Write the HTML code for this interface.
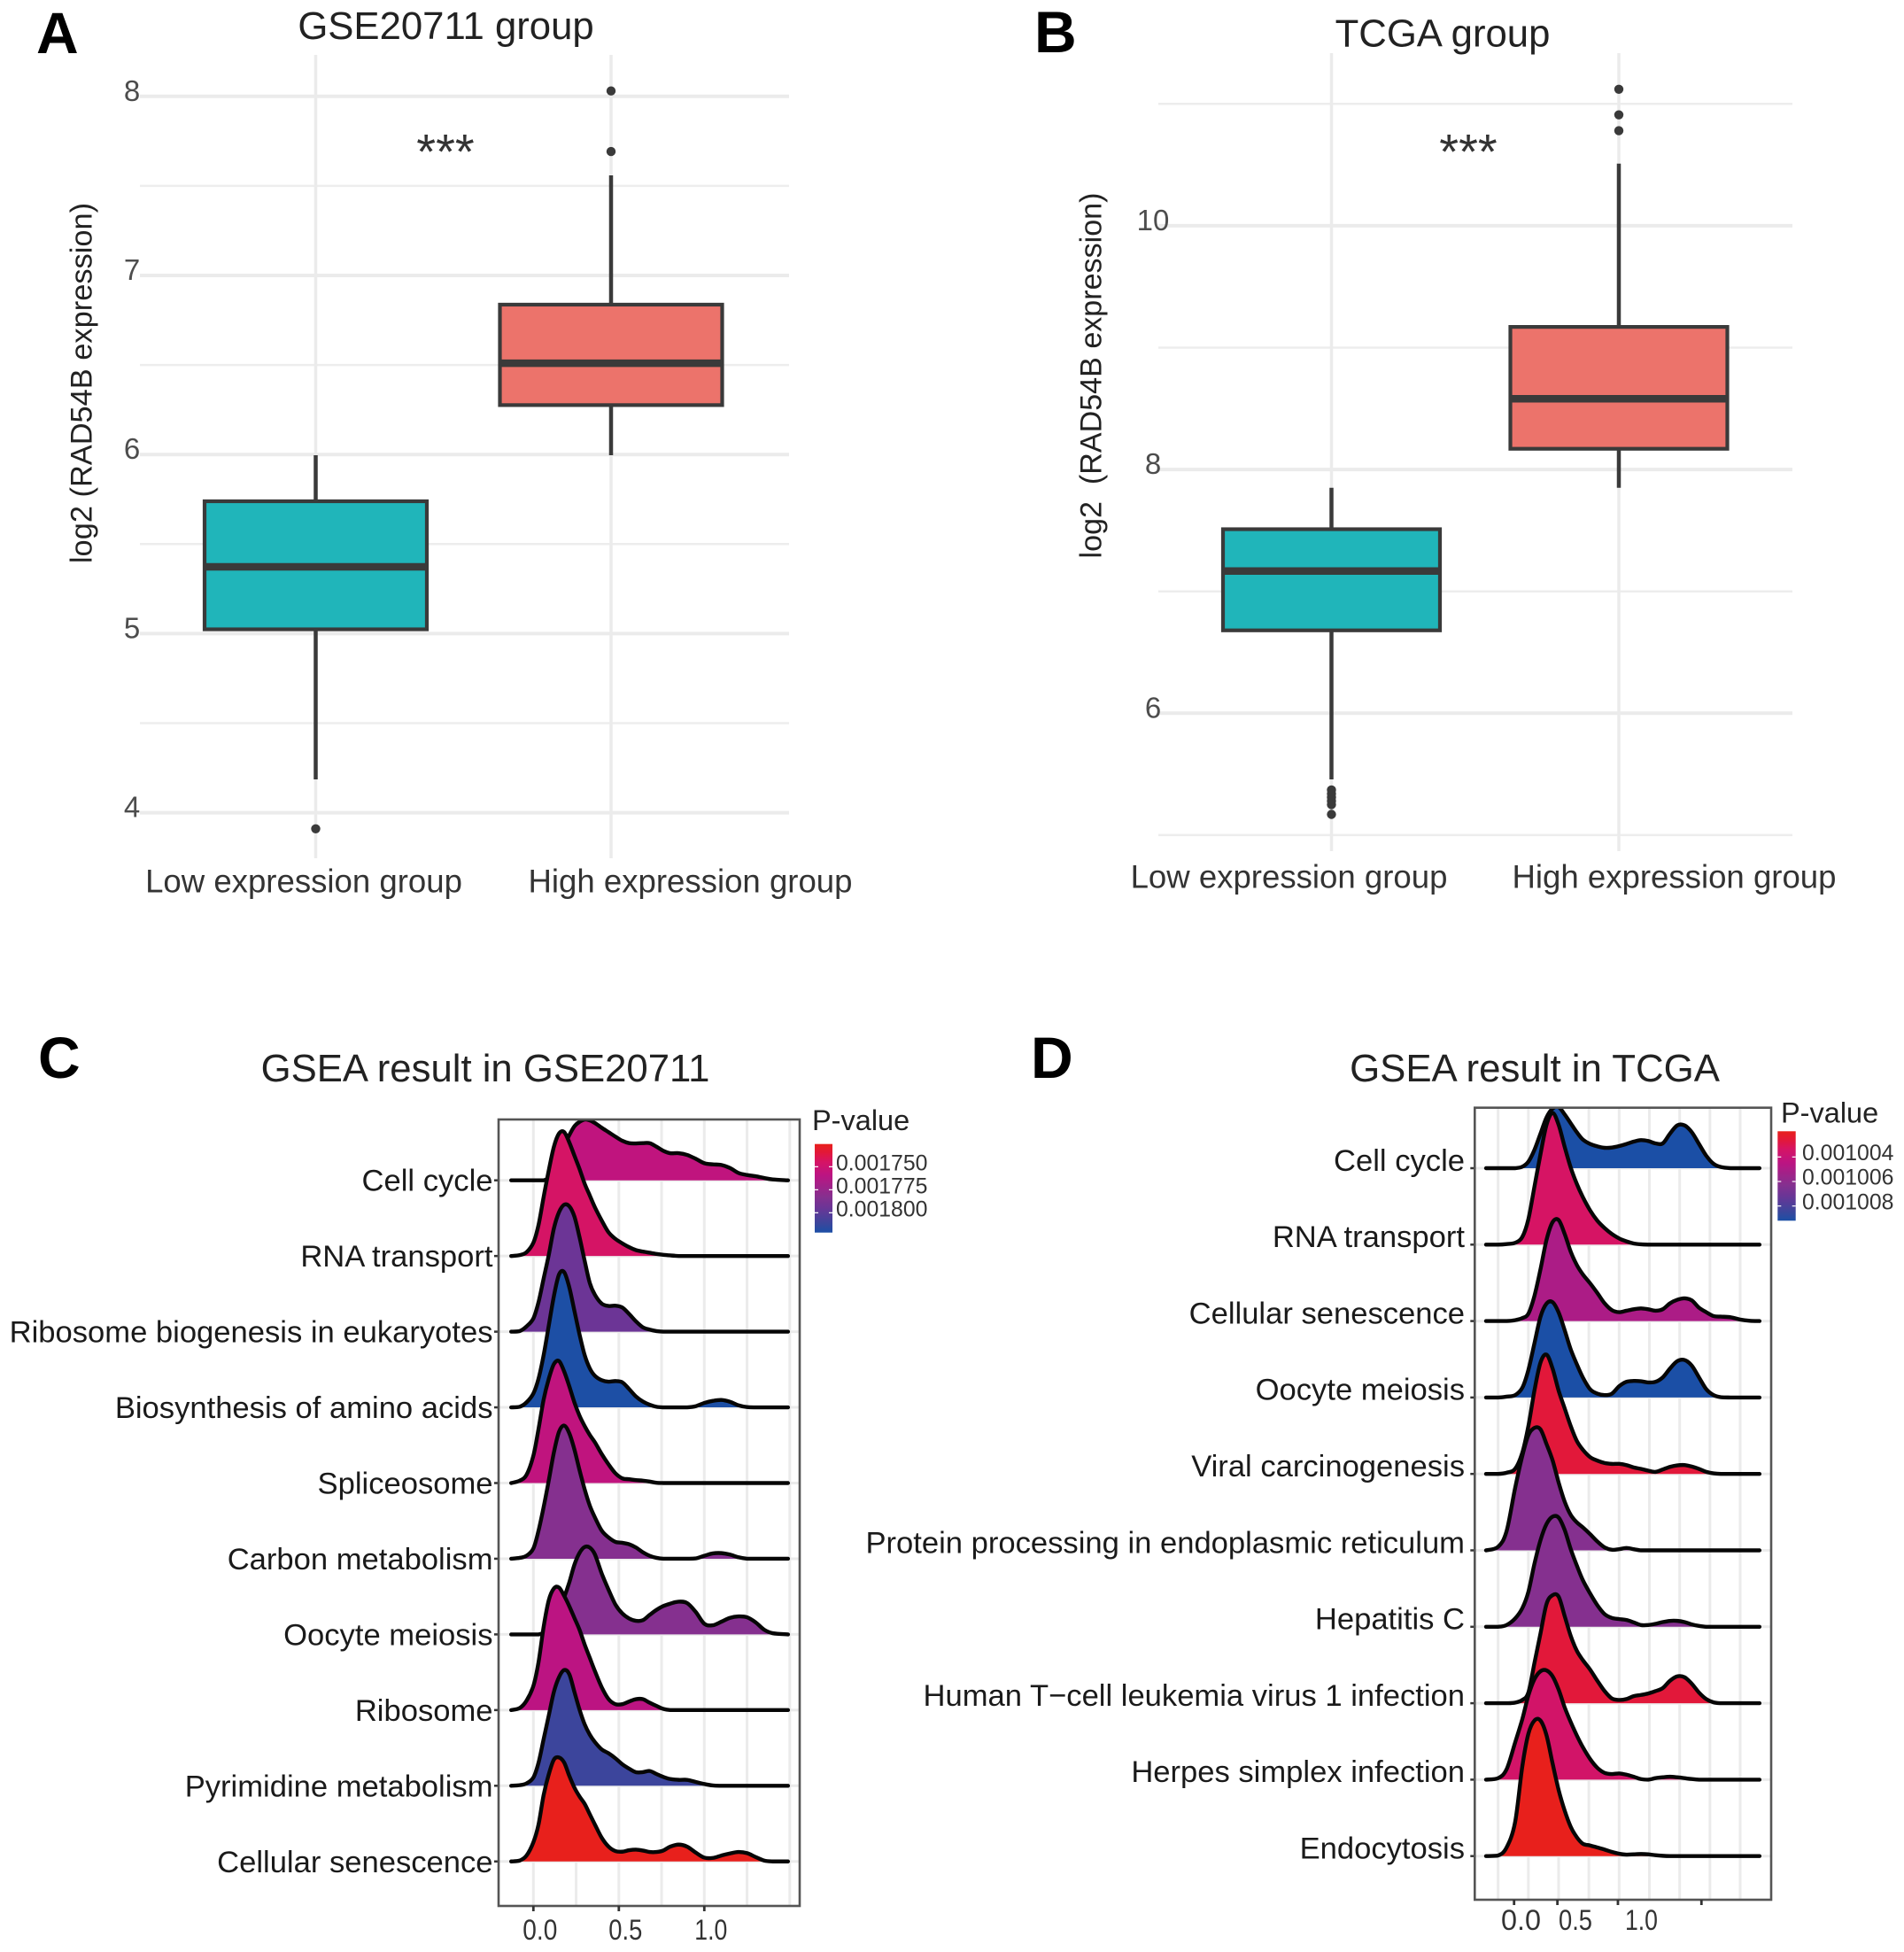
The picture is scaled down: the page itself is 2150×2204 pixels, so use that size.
<!DOCTYPE html>
<html lang="en">
<head>
<meta charset="utf-8">
<title>RAD54B expression and GSEA results</title>
<style>
  html, body { margin: 0; padding: 0; background: #fff; }
  svg { display: block; }
  text { font-family: "Liberation Sans", "DejaVu Sans", sans-serif; }
</style>
</head>
<body>
<svg id="figure" xmlns="http://www.w3.org/2000/svg" width="2150" height="2204" viewBox="0 0 2150 2204">
  <rect x="0" y="0" width="2150" height="2204" fill="#ffffff"/>
  <defs>
    <clipPath id="clip-c"><rect x="563" y="1264" width="340" height="888"/></clipPath>
    <clipPath id="clip-d"><rect x="1665.3" y="1250.7" width="334.7" height="894.3"/></clipPath>
  </defs>

  <g id="panel-a"></g>
  <g id="panel-b"></g>
  <g id="panel-c"></g>
  <g id="panel-d"></g>

  <text x="41" y="60" font-size="66" font-weight="bold" fill="#000">A</text>
  <text x="1168" y="59" font-size="66" font-weight="bold" fill="#000">B</text>
  <text x="43" y="1217" font-size="66" font-weight="bold" fill="#000">C</text>
  <text x="1164" y="1217" font-size="66" font-weight="bold" fill="#000">D</text>

  <text x="503.5" y="44" font-size="43.7" text-anchor="middle" fill="#222">GSE20711 group</text>
  <text x="1629" y="52.6" font-size="43.7" text-anchor="middle" fill="#222">TCGA group</text>
  <text x="548" y="1221" font-size="43.7" text-anchor="middle" fill="#222">GSEA result in GSE20711</text>
  <text x="1733" y="1221" font-size="43.8" text-anchor="middle" fill="#222">GSEA result in TCGA</text>

  <text transform="translate(103.5 432.5) rotate(-90)" font-size="34.4" text-anchor="middle" fill="#222">log2 (RAD54B expression)</text>
  <text transform="translate(1243.6 424) rotate(-90)" font-size="34.1" text-anchor="middle" fill="#222" style="white-space:pre">log2  (RAD54B expression)</text>

  <text x="503" y="190.7" font-size="56" text-anchor="middle" fill="#333">***</text>
  <text x="1658" y="190.7" font-size="56" text-anchor="middle" fill="#333">***</text>

  <text x="917" y="1276" font-size="32.5" fill="#222">P-value</text>
  <text x="2011" y="1267.3" font-size="32.5" fill="#222">P-value</text>
</svg>

<script>
// ---------- Panel A data ----------
const boxCategories = ['Low expression group', 'High expression group'];
const aQ1 = [5.024, 6.276];
const aMedian = [5.373, 6.51];
const aQ3 = [5.739, 6.837];
const aWhiskerLow = [4.186, 5.996];
const aWhiskerHigh = [5.996, 7.559];
const aOutliersLow = [3.91];
const aOutliersHigh = [8.03, 7.692];
const aMajorTicks = [4, 5, 6, 7, 8];
const aMinorTicks = [4.5, 5.5, 6.5, 7.5];

// ---------- Panel B data ----------
const bQ1 = [6.68, 8.17];
const bMedian = [7.167, 8.58];
const bQ3 = [7.51, 9.17];
const bWhiskerLow = [5.457, 7.85];
const bWhiskerHigh = [7.85, 10.51];
const bOutliersLow = [5.37, 5.34, 5.31, 5.28, 5.25, 5.17];
const bOutliersHigh = [11.12, 10.91, 10.78];
const bMajorTicks = [6, 8, 10];
const bMinorTicks = [5, 7, 9, 11];

// ---------- Panel C data ----------
const cPathways = ['Cell cycle', 'RNA transport', 'Ribosome biogenesis in eukaryotes', 'Biosynthesis of amino acids', 'Spliceosome', 'Carbon metabolism', 'Oocyte meiosis', 'Ribosome', 'Pyrimidine metabolism', 'Cellular senescence'];
const cPvalues = [0.001757, 0.001745, 0.001794, 0.001821, 0.001757, 0.001783, 0.001783, 0.001759, 0.001811, 0.0017253];
const cDensityX = [-0.13, -0.08, -0.04, 0, 0.03, 0.06, 0.09, 0.12, 0.15, 0.18, 0.21, 0.24, 0.27, 0.30, 0.33, 0.36, 0.40, 0.44, 0.48, 0.52, 0.56, 0.60, 0.64, 0.68, 0.72, 0.76, 0.80, 0.85, 0.90, 0.95, 1.0, 1.05, 1.10, 1.15, 1.20, 1.25, 1.30, 1.35, 1.40, 1.49];
const cCellCycle = [0,0,0,0,0,0,10,43,83,118,153,183,198,206,203,194,178,163,148,134,126,125,126,126,114,100,92,92,86,73,58,54,52,42,25,18,14,8,3,0];
const cRnaTransport = [0,3,13,45,105,200,290,370,415,420,385,340,295,245,205,165,120,80,58,43,30,20,15,11,7,4,2,0,0,0,0,0,0,0,0,0,0,0,0,0];
const cRibosomeBiogenesis = [0,2,18,45,100,180,260,350,405,430,425,390,320,240,165,125,95,87,88,82,60,35,15,7,2,0,0,0,0,0,0,0,0,0,0,0,0,0,0,0];
const cAminoAcids = [0,2,17,47,97,177,277,377,450,458,407,327,247,177,132,107,92,87,89,85,62,37,20,9,2,0,0,0,0,4,15,22,25,19,7,1,0,0,0,0];
const cSpliceosome = [0,8,28,93,183,283,353,403,413,378,328,273,228,193,163,138,98,63,33,16,13,10,8,5,1,0,0,0,0,0,0,0,0,0,0,0,0,0,0,0];
const cCarbon = [0,3,10,35,95,175,265,360,430,451,425,370,300,235,180,140,95,72,57,54,49,38,22,10,3,0,0,0,0,1,10,18,19,14,5,0,0,0,0,0];
const cOocyte = [0,0,0,0,0,5,16,46,86,126,176,236,276,296,294,271,206,151,101,71,54,46,48,66,83,96,104,111,106,76,36,31,43,56,61,58,41,16,4,0];
const cRibosome = [0,7,32,82,162,282,372,412,415,387,352,312,272,222,177,132,77,37,20,20,29,37,37,25,14,4,0,0,0,0,0,0,0,0,0,0,0,0,0,0];
const cPyrimidine = [0,2,8,28,78,158,238,318,368,392,378,318,258,208,173,148,123,110,93,73,58,46,46,50,40,30,23,20,20,13,6,1,0,0,0,0,0,0,0,0];
const cSenescence = [0,3,20,65,125,225,295,345,352,335,290,250,220,195,160,125,80,50,35,33,38,40,37,32,32,37,50,57,50,30,13,12,20,27,32,28,15,3,0,0];
const cDensities = [cCellCycle, cRnaTransport, cRibosomeBiogenesis, cAminoAcids, cSpliceosome, cCarbon, cOocyte, cRibosome, cPyrimidine, cSenescence];
const cTickValues = [0, 0.5, 1];
const cTickLabels = ['0.0', '0.5', '1.0'];
const cGridValues = [0, 0.25, 0.5, 0.75, 1, 1.25, 1.5];
const cLegendTicks = [0.00175, 0.001775, 0.0018];
const cLegendLabels = ['0.001750', '0.001775', '0.001800'];

// ---------- Panel D data ----------
const dPathways = ['Cell cycle', 'RNA transport', 'Cellular senescence', 'Oocyte meiosis', 'Viral carcinogenesis', 'Protein processing in endoplasmic reticulum', 'Hepatitis C', 'Human T\u2212cell leukemia virus 1 infection', 'Herpes simplex infection', 'Endocytosis'];
const dPvalues = [0.0010092, 0.00100336, 0.00100497, 0.0010092, 0.00100263, 0.00100628, 0.00100628, 0.00100263, 0.00100351, 0.0010019];
const dDensityX = [-0.6, -0.5, -0.43, -0.36, -0.30, -0.25, -0.20, -0.15, -0.10, -0.05, 0, 0.05, 0.10, 0.15, 0.20, 0.26, 0.32, 0.38, 0.44, 0.50, 0.56, 0.62, 0.68, 0.74, 0.80, 0.86, 0.92, 0.98, 1.04, 1.10, 1.16, 1.22, 1.28, 1.34, 1.42, 1.50, 1.58, 1.66];
const dCellCycle = [0,0,0,0,5,22,62,117,172,202,207,182,152,122,97,82,74,69,70,75,82,90,95,92,84,84,117,145,145,122,82,42,15,4,0,0,0,0];
const dRnaTransport = [0,0,2,6,26,86,196,306,406,446,406,331,261,206,161,116,81,56,36,21,11,4,1,0,0,0,0,0,0,0,0,0,0,0,0,0,0,0];
const dSenescence = [0,0,0,3,10,25,85,175,275,335,342,295,235,190,158,128,95,60,37,30,35,40,43,40,35,40,60,72,77,70,45,30,17,15,13,5,1,0];
const dOocyte = [0,0,3,8,33,93,183,273,318,323,288,228,163,113,68,28,13,8,13,38,53,56,55,51,53,68,98,123,127,108,68,28,8,1,0,0,0,0];
const dViral = [0,0,4,17,72,162,282,377,404,357,282,222,162,112,82,57,45,37,34,34,30,22,17,11,7,15,24,29,30,25,17,7,2,0,0,0,0,0];
const dProtein = [0,12,65,210,320,390,415,410,360,305,230,165,120,95,78,55,30,10,2,4,8,4,0,0,0,0,0,0,0,0,0,0,0,0,0,0,0,0];
const dHepatitis = [0,0,6,28,63,118,213,293,348,373,370,328,263,208,158,113,73,43,30,26,23,15,6,6,10,16,20,20,16,8,3,0,0,0,0,0,0,0];
const dHumanT = [0,0,0,2,11,36,136,236,336,366,361,295,228,178,146,114,76,41,16,11,14,24,28,33,41,51,76,91,88,66,36,14,3,0,0,0,0,0];
const dHerpes = [0,5,35,125,205,285,340,367,370,350,305,245,195,150,110,70,40,23,19,21,17,10,2,0,5,8,10,8,5,2,0,0,0,0,0,0,0,0];
const dEndocytosis = [0,2,29,114,304,414,459,459,409,314,224,154,99,64,42,36,29,22,14,8,5,6,7,6,3,1,0,0,0,0,0,0,0,0,0,0,0,0];
const dDensities = [dCellCycle, dRnaTransport, dSenescence, dOocyte, dViral, dProtein, dHepatitis, dHumanT, dHerpes, dEndocytosis];
const dTickValues = [-0.368, -0.01, 0.49, 1.18];
const dTickLabels = ['0.0', '0.5', '1.0'];
const dLabelValues = [-0.311, 0.139, 0.684];
const dGridValues = [-0.5, -0.25, 0, 0.25, 0.5, 0.75, 1, 1.25, 1.5];
const dLegendTicks = [0.001004, 0.001006, 0.001008];
const dLegendLabels = ['0.001004', '0.001006', '0.001008'];

// ---------- Helpers ----------
const SVG_NS = 'http://www.w3.org/2000/svg';
function make(tag, attrs, parent) {
  const el = document.createElementNS(SVG_NS, tag);
  for (const k in attrs) el.setAttribute(k, attrs[k]);
  parent.appendChild(el);
  return el;
}
function slug(s) { return s.toLowerCase().replace(/[^a-z0-9]+/g, '-'); }

const colorStops = [
  [0, [232, 32, 28]], [0.1, [226, 24, 58]], [0.2, [214, 20, 100]], [0.35, [188, 20, 130]],
  [0.6, [133, 48, 143]], [0.72, [107, 53, 150]], [0.9, [58, 70, 156]], [1, [27, 79, 166]]
];
function colorAt(t) {
  t = Math.max(0, Math.min(1, t));
  for (let i = 1; i < colorStops.length; i++) {
    if (t <= colorStops[i][0]) {
      const a = colorStops[i - 1], b = colorStops[i];
      const f = (t - a[0]) / (b[0] - a[0]);
      const c = a[1].map((v, j) => Math.round(v + (b[1][j] - v) * f));
      return 'rgb(' + c.join(',') + ')';
    }
  }
  return 'rgb(27,79,166)';
}

// ---------- Boxplot ----------
function drawBoxplot(o) {
  const g = o.group;
  o.minor.forEach(function (v) {
    const el = make('line', { x1: o.gridLeft, x2: o.gridRight, y1: o.y(v), y2: o.y(v), stroke: '#ededed', 'stroke-width': 2.5 }, g);
    
    
  });
  o.major.forEach(function (v) {
    const el = make('line', { x1: o.gridLeft, x2: o.gridRight, y1: o.y(v), y2: o.y(v), stroke: '#ebebeb', 'stroke-width': 4 }, g);
    
    
    const t = make('text', { x: o.tickX, y: o.y(v) + 5, 'font-size': 33, 'text-anchor': 'middle', fill: '#4d4d4d' }, g);
    t.textContent = String(v);
    
    
  });
  boxCategories.forEach(function (name, i) {
    const cx = o.x(i);
    const key = o.id + '-' + slug(name);
    const gl = make('line', { x1: cx, x2: cx, y1: o.gridTop, y2: o.gridBottom, stroke: '#ebebeb', 'stroke-width': 3.5 }, g);
    
    
  });
  boxCategories.forEach(function (name, i) {
    const cx = o.x(i);
    const key = o.id + '-' + slug(name);
    const w1 = make('line', { x1: cx, x2: cx, y1: o.y(o.whiskerHigh[i]), y2: o.y(o.q3[i]), stroke: '#3a3a3a', 'stroke-width': 4.5 }, g);
    
    
    const w2 = make('line', { x1: cx, x2: cx, y1: o.y(o.q1[i]), y2: o.y(o.whiskerLow[i]), stroke: '#3a3a3a', 'stroke-width': 4.5 }, g);
    
    
    const box = make('rect', { x: cx - o.halfWidth, y: o.y(o.q3[i]), width: o.halfWidth * 2, height: o.y(o.q1[i]) - o.y(o.q3[i]), fill: o.colors[i], stroke: '#3a3a3a', 'stroke-width': 4.2 }, g);
    
    
    const med = make('line', { x1: cx - o.halfWidth, x2: cx + o.halfWidth, y1: o.y(o.median[i]), y2: o.y(o.median[i]), stroke: '#3a3a3a', 'stroke-width': 8.5 }, g);
    
    
    o.outliers[i].forEach(function (v, k) {
      const c = make('circle', { cx: cx, cy: o.y(v), r: 5.2, fill: '#3a3a3a' }, g);
      
      
    });
    const lab = make('text', { x: o.labelX[i], y: o.labelY, 'font-size': 36.6, 'text-anchor': 'middle', fill: '#333' }, g);
    lab.textContent = name;
    
    
  });
}

drawBoxplot({
  id: 'panel-a', group: document.getElementById('panel-a'),
  y: function (v) { return 917.6 - (v - 4) * 202.2; },
  x: function (i) { return 356.5 + i * 333.5; },
  major: aMajorTicks, minor: aMinorTicks, q1: aQ1, median: aMedian, q3: aQ3,
  whiskerLow: aWhiskerLow, whiskerHigh: aWhiskerHigh,
  outliers: [aOutliersLow, aOutliersHigh],
  colors: ['#20B5BA', '#EC736B'], halfWidth: 125.5,
  gridLeft: 158, gridRight: 891, gridTop: 62, gridBottom: 969,
  tickX: 149, labelX: [343, 779.5], labelY: 1007.5
});
drawBoxplot({
  id: 'panel-b', group: document.getElementById('panel-b'),
  y: function (v) { return 805.3 - (v - 6) * 137.6; },
  x: function (i) { return 1503.5 + i * 324.5; },
  major: bMajorTicks, minor: bMinorTicks, q1: bQ1, median: bMedian, q3: bQ3,
  whiskerLow: bWhiskerLow, whiskerHigh: bWhiskerHigh,
  outliers: [bOutliersLow, bOutliersHigh],
  colors: ['#20B5BA', '#EC736B'], halfWidth: 122.5,
  gridLeft: 1308, gridRight: 2024, gridTop: 60, gridBottom: 961,
  tickX: 1302, labelX: [1455.5, 1890.5], labelY: 1002.5
});

// ---------- Ridgeline ----------
function curvePath(pts, base) {
  let d = 'M' + pts[0][0].toFixed(2) + ' ' + pts[0][1].toFixed(2);
  for (let i = 0; i < pts.length - 1; i++) {
    const p0 = pts[Math.max(0, i - 1)], p1 = pts[i], p2 = pts[i + 1], p3 = pts[Math.min(pts.length - 1, i + 2)];
    const c1x = p1[0] + (p2[0] - p0[0]) / 6;
    const c1y = Math.min(base, p1[1] + (p2[1] - p0[1]) / 6);
    const c2x = p2[0] - (p3[0] - p1[0]) / 6;
    const c2y = Math.min(base, p2[1] - (p3[1] - p1[1]) / 6);
    d += 'C' + c1x.toFixed(2) + ' ' + c1y.toFixed(2) + ' ' + c2x.toFixed(2) + ' ' + c2y.toFixed(2) + ' ' + p2[0].toFixed(2) + ' ' + p2[1].toFixed(2);
  }
  return d;
}

function drawRidges(o) {
  const g = o.group;
  const densityScale = 1 / 3;
  const baseY = function (i) { return o.firstBase + i * o.spacing; };

  o.gridValues.forEach(function (v) {
    const el = make('line', { x1: o.x(v), x2: o.x(v), y1: o.top, y2: o.bottom, stroke: '#ebebeb', 'stroke-width': 3 }, g);
    
    
  });
  o.pathways.forEach(function (name, i) {
    const el = make('line', { x1: o.left, x2: o.right, y1: baseY(i), y2: baseY(i), stroke: '#ebebeb', 'stroke-width': 3 }, g);
    
    
  });

  const ridges = make('g', { 'clip-path': 'url(#' + o.clip + ')' }, g);
  
  
  o.pathways.forEach(function (name, i) {
    const base = baseY(i);
    const pts = o.densityX.map(function (v, k) {
      return [o.x(v), base - (o.densities[i][k] || 0) * densityScale];
    });
    const line = curvePath(pts, base);
    const t = (o.pvalues[i] - o.pLow) / (o.pHigh - o.pLow);
    const fill = make('path', { d: line + 'L' + pts[pts.length - 1][0].toFixed(2) + ' ' + base + 'L' + pts[0][0].toFixed(2) + ' ' + base + 'Z', fill: colorAt(t), stroke: 'none' }, ridges);
    
    
    const stroke = make('path', { d: line, fill: 'none', stroke: '#060606', 'stroke-width': 4.4, 'stroke-linejoin': 'round', 'stroke-linecap': 'round' }, ridges);
    
    
  });

  o.pathways.forEach(function (name, i) {
    const base = baseY(i);
    const label = make('text', { x: o.labelRight, y: base + o.labelDy, 'font-size': 34.6, 'text-anchor': 'end', fill: '#1a1a1a' }, g);
    label.textContent = name;
    
    
    const tick = make('line', { x1: o.left - 5, x2: o.left, y1: base, y2: base, stroke: '#333', 'stroke-width': 2.5 }, g);
    
    
  });

  const frame = make('rect', { x: o.left, y: o.top, width: o.right - o.left, height: o.bottom - o.top, fill: 'none', stroke: '#555', 'stroke-width': 2.6 }, g);
  
  

  o.tickValues.forEach(function (v, k) {
    const tick = make('line', { x1: o.x(v), x2: o.x(v), y1: o.bottom, y2: o.bottom + 6, stroke: '#333', 'stroke-width': 2.8 }, g);
    
    
  });
  o.tickLabels.forEach(function (text, k) {
    const lab = make('text', { x: o.labelPos(k), y: o.xLabelY, 'font-size': 32, 'text-anchor': 'middle', fill: '#333', textLength: o.labelLengths[k], lengthAdjust: 'spacingAndGlyphs' }, g);
    lab.textContent = text;
    
    
  });

  // Colour-bar legend
  const gradId = o.id + '-gradient';
  const svg = document.getElementById('figure');
  const grad = make('linearGradient', { id: gradId, x1: 0, x2: 0, y1: 0, y2: 1 }, svg.querySelector('defs'));
  colorStops.forEach(function (s) {
    make('stop', { offset: s[0], 'stop-color': 'rgb(' + s[1].join(',') + ')' }, grad);
  });
  const bar = make('rect', { x: o.legendX, y: o.legendTop, width: o.legendW, height: o.legendBottom - o.legendTop, fill: 'url(#' + gradId + ')' }, g);
  
  
  const legendY = function (p) {
    return o.legendTop + (p - o.pLow) / (o.pHigh - o.pLow) * (o.legendBottom - o.legendTop);
  };
  o.legendTicks.forEach(function (p, k) {
    const y = legendY(p);
    const t1 = make('line', { x1: o.legendX, x2: o.legendX + 4, y1: y, y2: y, stroke: '#fff', 'stroke-width': 1.2 }, g);
    
    
    const t2 = make('line', { x1: o.legendX + o.legendW - 4, x2: o.legendX + o.legendW, y1: y, y2: y, stroke: '#fff', 'stroke-width': 1.2 }, g);
    
    
    const lab = make('text', { x: o.legendLabelX, y: y + o.legendLabelDy, 'font-size': 24.8, fill: '#333' }, g);
    lab.textContent = o.legendLabels[k];
    
    
  });
}

const xScaleC = function (v) { return 602.3 + v * 193; };
drawRidges({
  id: 'panel-c', group: document.getElementById('panel-c'), clip: 'clip-c',
  x: xScaleC, left: 563, right: 903, top: 1264, bottom: 2152,
  firstBase: 1332.7, spacing: 85.45,
  pathways: cPathways, pvalues: cPvalues, densityX: cDensityX, densities: cDensities,
  pLow: 0.0017253, pHigh: 0.0018215,
  gridValues: cGridValues, tickValues: cTickValues, tickLabels: cTickLabels,
  labelPos: function (k) { return xScaleC(cTickValues[k]) + 7.5; },
  labelLengths: [39, 38, 37], xLabelY: 2190,
  labelRight: 556.5, labelDy: 12,
  legendX: 920, legendW: 20, legendTop: 1291.7, legendBottom: 1391.7,
  legendTicks: cLegendTicks, legendLabels: cLegendLabels, legendLabelX: 944, legendLabelDy: 4
});

const xScaleD = function (v) { return 1760 + v * 136.67; };
drawRidges({
  id: 'panel-d', group: document.getElementById('panel-d'), clip: 'clip-d',
  x: xScaleD, left: 1665.3, right: 2000, top: 1250.7, bottom: 2145,
  firstBase: 1319, spacing: 86.3,
  pathways: dPathways, pvalues: dPvalues, densityX: dDensityX, densities: dDensities,
  pLow: 0.0010019, pHigh: 0.0010092,
  gridValues: dGridValues, tickValues: dTickValues, tickLabels: dTickLabels,
  labelPos: function (k) { return xScaleD(dLabelValues[k]); },
  labelLengths: [45, 38, 37], xLabelY: 2179,
  labelRight: 1654, labelDy: 2.8,
  legendX: 2007.3, legendW: 20.4, legendTop: 1277.3, legendBottom: 1378.3,
  legendTicks: dLegendTicks, legendLabels: dLegendLabels, legendLabelX: 2035, legendLabelDy: 3.6
});
</script>
</body>
</html>
